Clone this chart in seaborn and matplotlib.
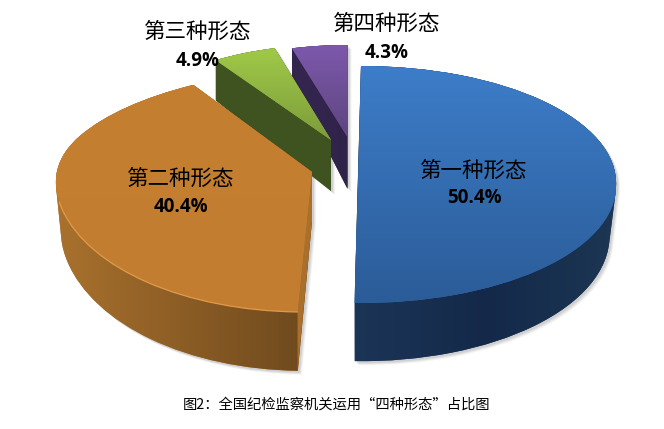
import numpy as np
import matplotlib
matplotlib.use("Agg")
import matplotlib.pyplot as plt
from matplotlib.patches import Polygon
from matplotlib.transforms import Transform
import seaborn as sns

names = ["第一种形态", "第二种形态", "第三种形态", "第四种形态"]
shares = [50.4, 40.4, 4.9, 4.3]
caption = "图2：全国纪检监察机关运用“四种形态”占比图"

base_colors = ["#3570b5", "#c47f31", "#93bb45", "#72519c"]
top_shades = [("#3d7dc9", "#2b5c98"), ("#c57f31", "#c27d30"),
              ("#a0c948", "#7d9c3b"), ("#7d58ab", "#5d4680")]
side_shades = [("#1b3557", "#14294a", "#1c3653"), ("#a9712d", "#6d481d"),
               ("#3f5320", "#3f5320"), ("#35264f", "#30234a")]

# layout of each slice in pixels: cx, cy, rx, ry_up, ry_down, shear_up, shear_down
slice_geom = [(358, 184.5, 258, 118.5, 118.5, 3, -3),
              (312, 172, 257, 104, 140, 26, 8),
              (331, 140, 211, 95.3, 95.3, 0, 0),
              (347.5, 137, 208, 92, 92, 0, 0)]
# extrusion depth in pixels as offset + slope * y, and how much the base narrows
depth_geom = [(37, 0.07, 0.975), (37, 0.07, 0.98), (32, 0.135, 1.0), (21, 0.225, 1.0)]
label_pos = [(474, 171, 198), (181, 179, 207), (198, 32, 61), (387, 24, 53)]
draw_order = [3, 2, 0, 1]


class Warp(Transform):
    input_dims = output_dims = 2
    has_inverse = False

    def __init__(self, cx, cy, rx, ru, rd, su, sd):
        super().__init__()
        self.p = (cx, cy, rx, ru, rd, su, sd)

    def transform_non_affine(self, values):
        cx, cy, rx, ru, rd, su, sd = self.p
        values = np.asarray(values, float)
        u, v = values[:, 0], values[:, 1]
        x = cx + rx * u + np.where(v > 0, su, sd) * v
        y = cy - np.where(v > 0, ru, rd) * v
        return np.column_stack([x, y])


def hull(points):
    pts = sorted(set(map(tuple, np.round(points, 2))))
    def half(seq):
        out = []
        for p in seq:
            while len(out) > 1 and ((out[-1][0] - out[-2][0]) * (p[1] - out[-2][1])
                                    - (out[-1][1] - out[-2][1]) * (p[0] - out[-2][0])) <= 0:
                out.pop()
            out.append(p)
        return out[:-1]
    return np.array(half(pts) + half(pts[::-1]))


def gradient(ax, patch, verts, shades, horizontal, z):
    ramp = np.array(sns.blend_palette(list(shades), 128))
    img = ramp[None, :, :] if horizontal else ramp[:, None, :]
    x0, y0 = verts.min(axis=0)
    x1, y1 = verts.max(axis=0)
    im = ax.imshow(img, extent=(x0, x1, y1, y0), aspect="auto", zorder=z,
                   interpolation="bilinear", origin="upper")
    im.set_clip_path(patch)


sns.set_theme(style="white")
plt.rcParams["font.family"] = ["Noto Sans CJK SC", "DejaVu Sans"]

fig = plt.figure(figsize=(6.64, 4.29), dpi=100, facecolor="white")
ax = fig.add_axes([0, 0, 1, 1])
wedges, _ = ax.pie(shares, colors=base_colors, startangle=90, counterclock=False)

z = 2
for i in draw_order:
    w = wedges[i]
    warp = Warp(*slice_geom[i])
    w.set_transform(warp + ax.transData)
    w.set_linewidth(0)
    poly = warp.transform_path(w.get_path()).to_polygons()[0]
    d0, d1, narrow = depth_geom[i]
    cx = slice_geom[i][0]
    low = np.column_stack([cx + (poly[:, 0] - cx) * narrow, poly[:, 1] + d0 + d1 * poly[:, 1]])
    outline = hull(np.vstack([poly, low]))

    for off, a in [(4, 0.08), (3, 0.12), (2, 0.16)]:
        ax.add_patch(Polygon(outline + off, closed=True, fc="#707070", ec="none",
                             alpha=a, zorder=1))
    side = Polygon(outline, closed=True, fc=side_shades[i][0], ec="none", zorder=z)
    ax.add_patch(side)
    gradient(ax, side, outline, side_shades[i], True, z + 0.1)

    if i == 1:  # the cut face seen on the right of the orange slice
        a_pt = np.array(slice_geom[1][:2], float)
        c_pt = poly[np.argmax(poly[:, 1])]
        dep = lambda p: np.array([0, d0 + d1 * p[1]])
        ax.add_patch(Polygon([a_pt, a_pt + dep(a_pt), c_pt + dep(c_pt), c_pt], closed=True,
                             fc="#a8702c", ec="none", zorder=z + 0.2))

    w.set_zorder(z + 0.3)
    gradient(ax, w, poly, top_shades[i], False, z + 0.4)
    if i == 1:
        rim = poly[(np.hypot(poly[:, 0] - slice_geom[1][0], poly[:, 1] - slice_geom[1][1]) > 60)
                   & (poly[:, 1] > 200)]
        rim = rim[np.argsort(rim[:, 0])]
        ax.plot(rim[:, 0], rim[:, 1], color="#e09a48", lw=0.9, zorder=z + 0.5)
    z += 1

for name, share, (x, y1, y2) in zip(names, shares, label_pos):
    ax.text(x, y1, name, ha="center", va="center", fontsize=15.5, color="black", zorder=20)
    ax.text(x, y2, f"{share}%", ha="center", va="center", fontsize=13.5, fontweight="bold",
            family=["Open Sans", "DejaVu Sans"], color="black", zorder=20)
ax.text(336.5, 405, caption, ha="center", va="center", fontsize=10.3, color="black", zorder=20)

ax.set_aspect("auto")
ax.set_xlim(0, 664)
ax.set_ylim(429, 0)
ax.axis("off")
fig.savefig("out.png", dpi=100, facecolor="white")
